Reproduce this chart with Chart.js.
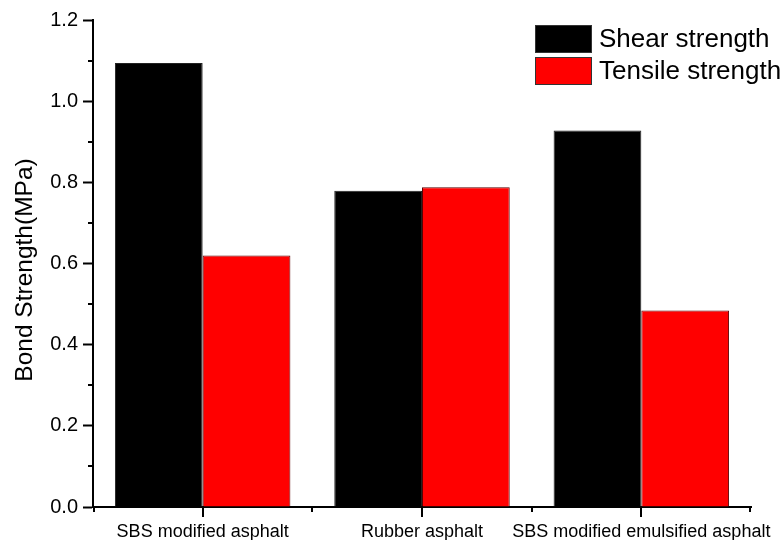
<!DOCTYPE html>
<html>
<head>
<meta charset="utf-8">
<script src="https://cdn.jsdelivr.net/npm/chart.js@4.4.0/dist/chart.umd.min.js"></script>
<style>
html,body{margin:0;padding:0;background:#fff;}
#wrap{width:784px;height:540px;position:relative;}
</style>
</head>
<body>
<div id="wrap"><canvas id="c" width="784" height="540"></canvas></div>
<script>
const categories = ["SBS modified asphalt", "Rubber asphalt", "SBS modified emulsified asphalt"];
const shearStrength = [1.094, 0.779, 0.928];
const tensileStrength = [0.620, 0.788, 0.484];
const seriesLabels = ["Shear strength", "Tensile strength"];
const yMajorTicks = [0, 0.2, 0.4, 0.6, 0.8, 1.0, 1.2];
const yMinorTicks = [0.1, 0.3, 0.5, 0.7, 0.9, 1.1];
const yTitle = "Bond Strength(MPa)";

const FONT = "'Liberation Sans', Arial, sans-serif";

const ticksPlugin = {
  id: 'extraTicks',
  afterDraw(chart) {
    const ctx = chart.ctx;
    const y = chart.scales.y, x = chart.scales.x;
    const left = chart.chartArea.left, bottom = chart.chartArea.bottom;
    ctx.save();
    ctx.strokeStyle = '#000';
    ctx.lineWidth = 2;
    yMinorTicks.forEach(v => {
      const py = Math.round(y.getPixelForValue(v));
      ctx.beginPath(); ctx.moveTo(left - 5, py); ctx.lineTo(left, py); ctx.stroke();
    });
    const n = categories.length;
    const first = x.getPixelForValue(0), last = x.getPixelForValue(n - 1);
    const step = n > 1 ? (last - first) / (n - 1) : (x.right - x.left);
    for (let i = 0; i < n; i++) {
      const pc = Math.round(first + step * i);
      ctx.beginPath(); ctx.moveTo(pc, bottom - 1); ctx.lineTo(pc, bottom + 10); ctx.stroke();
    }
    for (let i = 0; i <= n; i++) {
      let pb = Math.round(first + step * (i - 0.5));
      if (i === 0) pb = Math.round(x.left + 1);
      if (i === n) pb = Math.round(x.right - 1);
      ctx.beginPath(); ctx.moveTo(pb, bottom - 1); ctx.lineTo(pb, bottom + 5); ctx.stroke();
    }
    // y axis title
    ctx.translate(25, 270);
    ctx.rotate(-Math.PI / 2);
    ctx.fillStyle = '#000';
    ctx.font = '24.5px ' + FONT;
    ctx.textAlign = 'center';
    ctx.textBaseline = 'middle';
    ctx.fillText(yTitle, 0, 0);
    ctx.restore();
  }
};

const legendPlugin = {
  id: 'customLegend',
  afterDraw(chart) {
    const ctx = chart.ctx;
    const bx = 535, by = 25, bw = 57, bh = 28;
    ctx.save();
    chart.data.datasets.forEach((ds, i) => {
      const yy = by + i * (bh + 4);
      ctx.fillStyle = ds.backgroundColor;
      ctx.fillRect(bx, yy, bw, bh);
      ctx.strokeStyle = '#333';
      ctx.lineWidth = 1;
      ctx.strokeRect(bx + 0.5, yy + 0.5, bw - 1, bh - 1);
      ctx.fillStyle = '#000';
      ctx.font = '26px ' + FONT;
      ctx.textBaseline = 'middle';
      ctx.textAlign = 'left';
      ctx.fillText(ds.label, bx + bw + 7, yy + bh / 2 + 1);
    });
    ctx.restore();
  }
};

new Chart(document.getElementById('c'), {
  type: 'bar',
  data: {
    labels: categories,
    datasets: [
      { label: seriesLabels[0], data: shearStrength, backgroundColor: '#000000', borderColor: '#222', borderWidth: 1 },
      { label: seriesLabels[1], data: tensileStrength, backgroundColor: '#ff0000', borderColor: '#5a0000', borderWidth: 1 }
    ]
  },
  options: {
    responsive: false,
    animation: false,
    devicePixelRatio: 1,
    layout: { padding: { left: 0, right: 33, top: 20, bottom: 0 } },
    datasets: { bar: { categoryPercentage: 0.8, barPercentage: 1.0 } },
    plugins: { legend: { display: false }, tooltip: { enabled: false } },
    scales: {
      x: {
        type: 'category',
        offset: true,
        grid: { display: true, drawOnChartArea: false, offset: false, tickLength: 10, tickWidth: 2, tickColor: 'rgba(0,0,0,0)' },
        border: { display: true, color: '#000', width: 2 },
        ticks: { color: '#000', font: { family: FONT, size: 18 }, padding: 4, maxRotation: 0, autoSkip: false },
        afterFit(s) { s.height = 33; }
      },
      y: {
        min: 0, max: 1.2,
        afterBuildTicks(s) { s.ticks = yMajorTicks.map(v => ({ value: v })); },
        grid: { display: true, drawOnChartArea: false, tickLength: 10, tickWidth: 2, tickColor: '#000' },
        border: { display: true, color: '#000', width: 2 },
        ticks: { color: '#000', font: { family: FONT, size: 20 }, padding: 5, callback: v => v.toFixed(1) },
        afterFit(s) { s.width = 93; }
      }
    }
  },
  plugins: [ticksPlugin, legendPlugin]
});
</script>
</body>
</html>
